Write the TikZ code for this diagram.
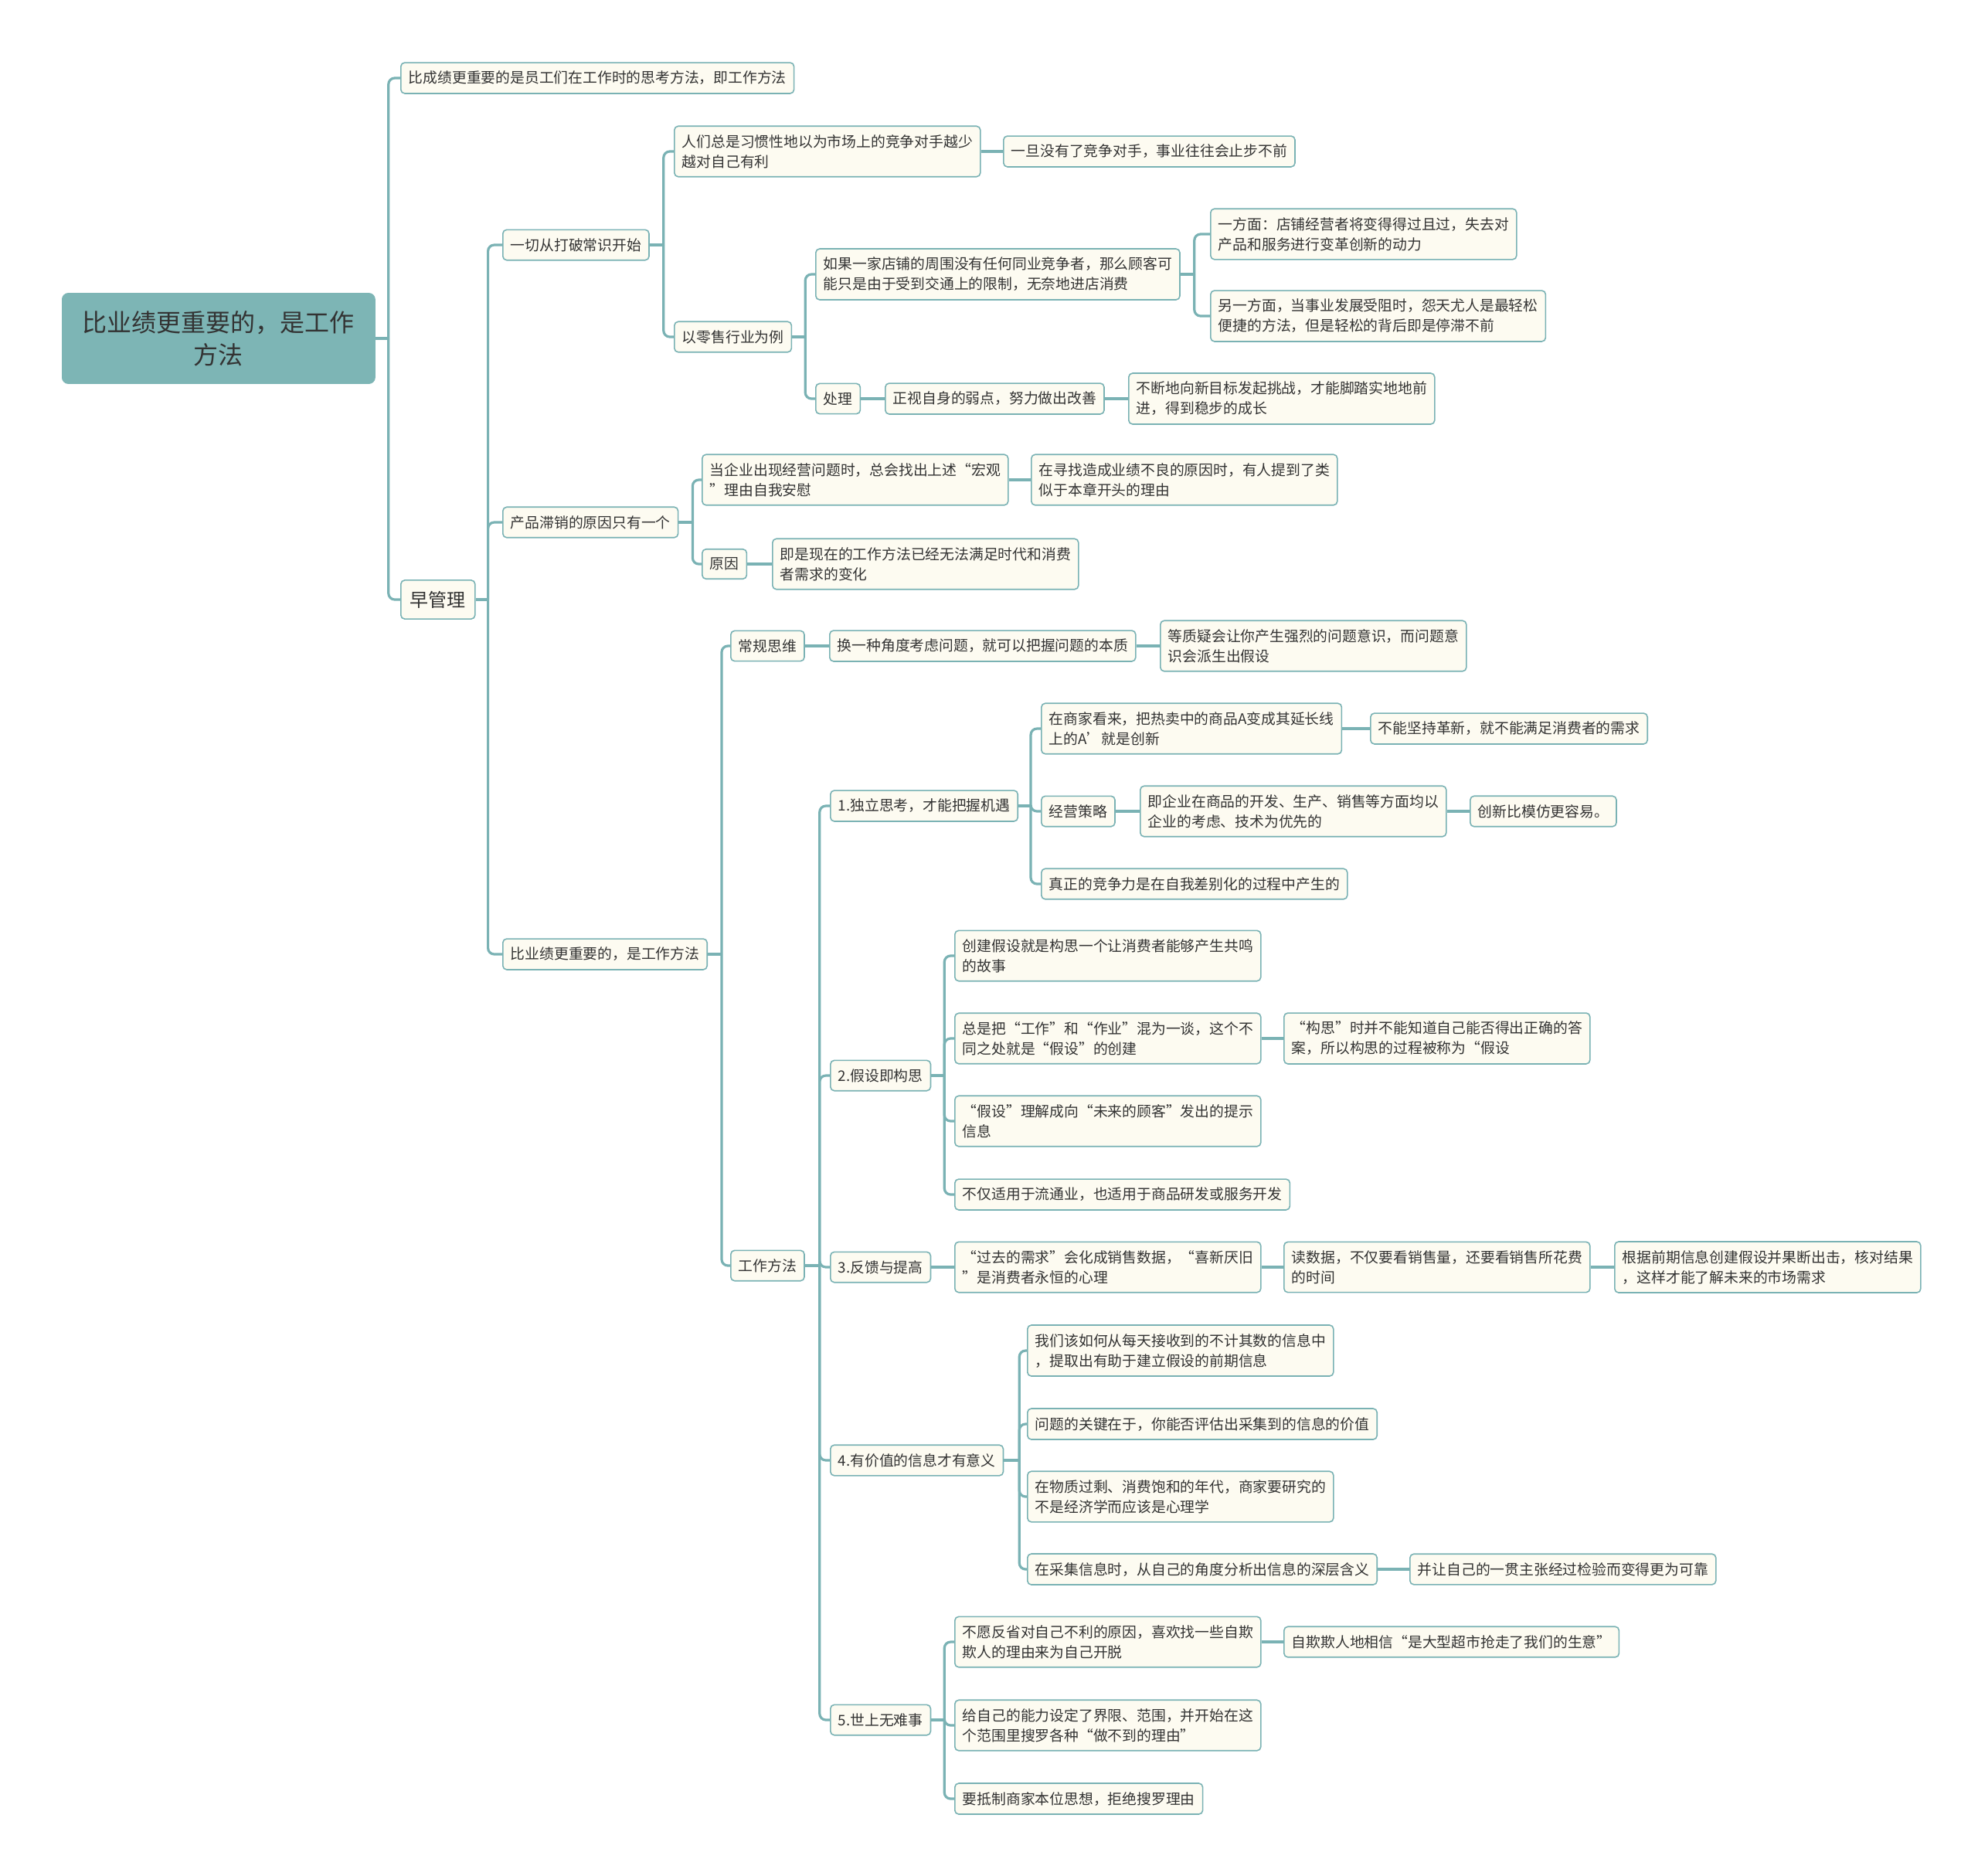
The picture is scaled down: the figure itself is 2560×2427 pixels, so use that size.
\documentclass[tikz,border=0pt]{standalone}
\usepackage{fontspec}
\setmainfont{Noto Sans CJK SC}
\usepackage{xcolor}
\usetikzlibrary{positioning}

\definecolor{mapline}{HTML}{7AB2B4}
\definecolor{rootfill}{HTML}{7DB5B5}
\definecolor{boxfill}{HTML}{FDFBF1}
\definecolor{inkgray}{HTML}{333333}

\begin{document}
\begin{tikzpicture}[
                x=0.5pt, y=-0.5pt,
                box/.style={draw=mapline, line width=0.8pt, fill=boxfill, rounded corners=2.5pt, anchor=west, align=left,
                            inner xsep=5pt, inner ysep=5.5pt, text=inkgray, font=\fontsize{9.4}{13}\selectfont},
                topic/.style={box, inner xsep=6pt, inner ysep=7pt, font=\fontsize{12}{15}\selectfont},
                root/.style={draw=rootfill, fill=rootfill, rounded corners=4pt, anchor=west, align=center, text=inkgray,
                             minimum width=202.5pt, minimum height=58.5pt, font=\fontsize{16}{21}\selectfont},
                link/.style={draw=mapline, line width=1.6pt, rounded corners=4pt}
            ]
                \useasboundingbox (0,0) rectangle (2560,2427);

                % main topic and first level
                \node[root] (root) at (80,438) {比业绩更重要的，是工作\\方法};
                \node[box] (method) at (518,101) {比成绩更重要的是员工们在工作时的思考方法，即工作方法};
                \node[topic] (early) at (518,776) {早管理};

                % second level
                \node[box] (breaking) at (650,317) {一切从打破常识开始};
                \node[box] (unsold) at (650,676) {产品滞销的原因只有一个};
                \node[box] (workway) at (650,1235) {比业绩更重要的，是工作方法};

                % 一切从打破常识开始
                \node[box] (habit) at (872,196) {人们总是习惯性地以为市场上的竞争对手越少\\越对自己有利};
                \node[box] (nocomp) at (1298,196) {一旦没有了竞争对手，事业往往会止步不前};
                \node[box] (retail) at (872,436) {以零售行业为例};
                \node[box] (store) at (1055,355) {如果一家店铺的周围没有任何同业竞争者，那么顾客可\\能只是由于受到交通上的限制，无奈地进店消费};
                \node[box] (oneside) at (1566,303) {一方面：店铺经营者将变得得过且过，失去对\\产品和服务进行变革创新的动力};
                \node[box] (otherside) at (1566,409) {另一方面，当事业发展受阻时，怨天尤人是最轻松\\便捷的方法，但是轻松的背后即是停滞不前};
                \node[box] (handle) at (1055,516) {处理};
                \node[box] (weak) at (1145,516) {正视自身的弱点，努力做出改善};
                \node[box] (challenge) at (1460,516) {不断地向新目标发起挑战，才能脚踏实地地前\\进，得到稳步的成长};

                % 产品滞销的原因只有一个
                \node[box] (comfort) at (908,621) {当企业出现经营问题时，总会找出上述“宏观\\”理由自我安慰};
                \node[box] (similar) at (1334,621) {在寻找造成业绩不良的原因时，有人提到了类\\似于本章开头的理由};
                \node[box] (reason) at (908,730) {原因};
                \node[box] (outdated) at (999,730) {即是现在的工作方法已经无法满足时代和消费\\者需求的变化};

                % 比业绩更重要的，是工作方法
                \node[box] (usual) at (945,836) {常规思维};
                \node[box] (angle) at (1073,836) {换一种角度考虑问题，就可以把握问题的本质};
                \node[box] (doubt) at (1501,836) {等质疑会让你产生强烈的问题意识，而问题意\\识会派生出假设};
                \node[box] (ways) at (945,1638) {工作方法};

                \node[box] (think) at (1074,1043) {1.独立思考，才能把握机遇};
                \node[box] (extend) at (1347,943) {在商家看来，把热卖中的商品A变成其延长线\\上的A'就是创新};
                \node[box] (reform) at (1773,943) {不能坚持革新，就不能满足消费者的需求};
                \node[box] (strategy) at (1347,1050) {经营策略};
                \node[box] (priority) at (1475,1050) {即企业在商品的开发、生产、销售等方面均以\\企业的考虑、技术为优先的};
                \node[box] (easier) at (1902,1050) {创新比模仿更容易。};
                \node[box] (compete) at (1347,1144) {真正的竞争力是在自我差别化的过程中产生的};

                \node[box] (hypo) at (1074,1392) {2.假设即构思};
                \node[box] (story) at (1235,1237) {创建假设就是构思一个让消费者能够产生共鸣\\的故事};
                \node[box] (mixup) at (1235,1344) {总是把“工作”和“作业”混为一谈，这个不\\同之处就是“假设”的创建};
                \node[box] (answer) at (1661,1344) {“构思”时并不能知道自己能否得出正确的答\\案，所以构思的过程被称为“假设};
                \node[box] (hint) at (1235,1451) {“假设”理解成向“未来的顾客”发出的提示\\信息};
                \node[box] (apply) at (1235,1546) {不仅适用于流通业，也适用于商品研发或服务开发};

                \node[box] (feedback) at (1074,1640) {3.反馈与提高};
                \node[box] (pastneed) at (1235,1640) {“过去的需求”会化成销售数据，“喜新厌旧\\”是消费者永恒的心理};
                \node[box] (readdata) at (1661,1640) {读数据，不仅要看销售量，还要看销售所花费\\的时间};
                \node[box] (verify) at (2089,1640) {根据前期信息创建假设并果断出击，核对结果\\，这样才能了解未来的市场需求};

                \node[box] (value) at (1074,1890) {4.有价值的信息才有意义};
                \node[box] (extract) at (1329,1748) {我们该如何从每天接收到的不计其数的信息中\\，提取出有助于建立假设的前期信息};
                \node[box] (assess) at (1329,1843) {问题的关键在于，你能否评估出采集到的信息的价值};
                \node[box] (psych) at (1329,1937) {在物质过剩、消费饱和的年代，商家要研究的\\不是经济学而应该是心理学};
                \node[box] (deep) at (1329,2031) {在采集信息时，从自己的角度分析出信息的深层含义};
                \node[box] (reliable) at (1824,2031) {并让自己的一贯主张经过检验而变得更为可靠};

                \node[box] (nothard) at (1074,2226) {5.世上无难事};
                \node[box] (excuse) at (1235,2125) {不愿反省对自己不利的原因，喜欢找一些自欺\\欺人的理由来为自己开脱};
                \node[box] (market) at (1661,2125) {自欺欺人地相信“是大型超市抢走了我们的生意”};
                \node[box] (limit) at (1235,2233) {给自己的能力设定了界限、范围，并开始在这\\个范围里搜罗各种“做不到的理由”};
                \node[box] (resist) at (1235,2328) {要抵制商家本位思想，拒绝搜罗理由};

                % connectors
                \draw[link] (root.east) -- ++(17,0) coordinate (root-j);
                \draw[link] (root-j) |- (method.west);
                \draw[link] (root-j) |- (early.west);

                \draw[link] (early.east) -- ++(16,0) coordinate (early-j);
                \draw[link] (early-j) |- (breaking.west);
                \draw[link] (early-j) |- (unsold.west);
                \draw[link] (early-j) |- (workway.west);

                \draw[link] (breaking.east) -- ++(18,0) coordinate (breaking-j);
                \draw[link] (breaking-j) |- (habit.west);
                \draw[link] (breaking-j) |- (retail.west);
                \draw[link] (habit.east) -- (nocomp.west);
                \draw[link] (retail.east) -- ++(17,0) coordinate (retail-j);
                \draw[link] (retail-j) |- (store.west);
                \draw[link] (retail-j) |- (handle.west);
                \draw[link] (store.east) -- ++(18,0) coordinate (store-j);
                \draw[link] (store-j) |- (oneside.west);
                \draw[link] (store-j) |- (otherside.west);
                \draw[link] (handle.east) -- (weak.west);
                \draw[link] (weak.east) -- (challenge.west);

                \draw[link] (unsold.east) -- ++(18,0) coordinate (unsold-j);
                \draw[link] (unsold-j) |- (comfort.west);
                \draw[link] (unsold-j) |- (reason.west);
                \draw[link] (comfort.east) -- (similar.west);
                \draw[link] (reason.east) -- (outdated.west);

                \draw[link] (workway.east) -- ++(18,0) coordinate (workway-j);
                \draw[link] (workway-j) |- (usual.west);
                \draw[link] (workway-j) |- (ways.west);
                \draw[link] (usual.east) -- (angle.west);
                \draw[link] (angle.east) -- (doubt.west);

                \draw[link] (ways.east) -- ++(19,0) coordinate (ways-j);
                \draw[link] (ways-j) |- (think.west);
                \draw[link] (ways-j) |- (hypo.west);
                \draw[link] (ways-j) |- (value.west);
                \draw[link] (ways-j) |- (nothard.west);
                \draw[link] (ways-j) |- (feedback.west);

                \draw[link] (think.east) -- ++(16,0) coordinate (think-j);
                \draw[link] (think-j) |- (extend.west);
                \draw[link] (think-j) |- (strategy.west);
                \draw[link] (think-j) |- (compete.west);
                \draw[link] (extend.east) -- (reform.west);
                \draw[link] (strategy.east) -- (priority.west);
                \draw[link] (priority.east) -- (easier.west);

                \draw[link] (hypo.east) -- ++(17,0) coordinate (hypo-j);
                \draw[link] (hypo-j) |- (story.west);
                \draw[link] (hypo-j) |- (mixup.west);
                \draw[link] (hypo-j) |- (hint.west);
                \draw[link] (hypo-j) |- (apply.west);
                \draw[link] (mixup.east) -- (answer.west);

                \draw[link] (feedback.east) -- (pastneed.west);
                \draw[link] (pastneed.east) -- (readdata.west);
                \draw[link] (readdata.east) -- (verify.west);

                \draw[link] (value.east) -- ++(20,0) coordinate (value-j);
                \draw[link] (value-j) |- (extract.west);
                \draw[link] (value-j) |- (assess.west);
                \draw[link] (value-j) |- (psych.west);
                \draw[link] (value-j) |- (deep.west);
                \draw[link] (deep.east) -- (reliable.west);

                \draw[link] (nothard.east) -- ++(17,0) coordinate (nothard-j);
                \draw[link] (nothard-j) |- (excuse.west);
                \draw[link] (nothard-j) |- (limit.west);
                \draw[link] (nothard-j) |- (resist.west);
                \draw[link] (excuse.east) -- (market.west);
            \end{tikzpicture}
\end{document}
